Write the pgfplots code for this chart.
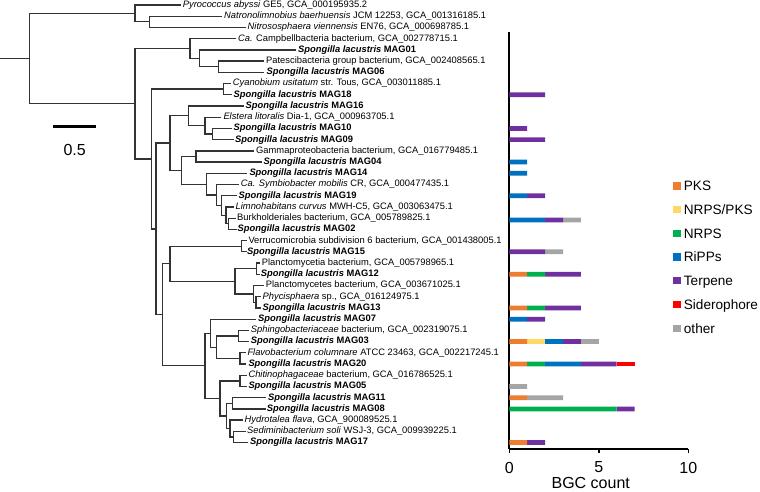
\documentclass[border=0pt]{standalone}
\usepackage{fontspec}
\setmainfont{Liberation Sans}
\usepackage{pgfplots}
\pgfplotsset{compat=1.18}
\usepackage{pgfplotstable}

\definecolor{cPKS}{HTML}{ED7D31}
\definecolor{cNP}{HTML}{FFD966}
\definecolor{cNRPS}{HTML}{00B050}
\definecolor{cRiPP}{HTML}{0070C0}
\definecolor{cTerp}{HTML}{7030A0}
\definecolor{cSid}{HTML}{FF0000}
\definecolor{cOth}{HTML}{A5A5A5}

\newcommand\mg[1]{\textbf{\textit{Spongilla lacustris} MAG#1}}
\tikzset{lbl/.style={font=\fontsize{9.35}{11}\selectfont, inner sep=0pt, text height=6.7pt, text depth=1.9pt, anchor=west}}
\pgfplotsset{tl/.style={black!80, line width=1.3pt, no markers, sharp plot, line join=miter, line cap=rect}}

% slot = 41 - tree row
\pgfplotstableread{
slot PKS NP NRPS RiPP Terp Sid Oth
32 0 0 0 0 2 0 0
29 0 0 0 0 1 0 0
28 0 0 0 0 2 0 0
26 0 0 0 1 0 0 0
25 0 0 0 1 0 0 0
23 0 0 0 1 1 0 0
20.84 0 0 0 2 1 0 1
18 0 0 0 0 2 0 1
16 1 0 1 0 2 0 0
13 1 0 1 0 2 0 0
12 0 0 0 1 1 0 0
10 1 1 0 1 1 0 1
8 1 0 1 2 2 1 0
6 0 0 0 0 0 0 1
5 1 0 0 0 0 0 2
4 0 0 6 0 1 0 0
1 1 0 0 0 1 0 0
}\bgc

\begin{document}
\begin{tikzpicture}
\useasboundingbox (0pt,0pt) rectangle (760pt,492pt);
\begin{axis}[name=tree, at={(0pt,0pt)}, anchor=south west, scale only axis,
  width=760pt, height=492pt, xmin=0, xmax=760, ymin=0.5544, ymax=44.405,
  y dir=reverse, hide axis, clip=false, enlargelimits=false]
% tree branches
\addplot[tl] coordinates {(221.7,2)(149.3,2)(149.3,3)(245,3)};
\addplot[tl] coordinates {(180,1)(135,1)(135,2.5)(149.3,2.5)};
\addplot[tl] coordinates {(263.3,6)(218.3,6)(218.3,7)(263.3,7)};
\addplot[tl] coordinates {(295,5)(199.3,5)(199.3,6.5)(218.3,6.5)};
\addplot[tl] coordinates {(235,4)(190,4)(190,5.75)(199.3,5.75)};
\addplot[tl] coordinates {(230,8)(223.3,8)(223.3,9)(231.7,9)};
\addplot[tl] coordinates {(231.7,12)(212.3,12)(212.3,13)(233.3,13)};
\addplot[tl] coordinates {(220.7,11)(205,11)(205,12.5)(212.3,12.5)};
\addplot[tl] coordinates {(243.3,10)(188.3,10)(188.3,11.75)(205,11.75)};
\addplot[tl] coordinates {(253.3,14)(196,14)(196,15)(261.7,15)};
\addplot[tl] coordinates {(235,20)(228.3,20)(228.3,21)(236.7,21)};
\addplot[tl] coordinates {(233.3,19)(226,19)(226,20.5)(228.3,20.5)};
\addplot[tl] coordinates {(236.7,18)(221.7,18)(221.7,19.75)(226,19.75)};
\addplot[tl] coordinates {(238.3,17)(216.7,17)(216.7,18.875)(221.7,18.875)};
\addplot[tl] coordinates {(246.7,16)(206.7,16)(206.7,17.9375)(216.7,17.9375)};
\addplot[tl] coordinates {(196,14.5)(181.7,14.5)(181.7,16.96875)(206.7,16.96875)};
\addplot[tl] coordinates {(188.3,10.875)(170,10.875)(170,15.734375)(181.7,15.734375)};
\addplot[tl] coordinates {(246,22)(241.7,22)(241.7,23)(246,23)};
\addplot[tl] coordinates {(259.3,24)(256.7,24)(256.7,25)(259.3,25)};
\addplot[tl] coordinates {(260,27)(256,27)(256,28)(260,28)};
\addplot[tl] coordinates {(263.3,26)(253.3,26)(253.3,27.5)(256,27.5)};
\addplot[tl] coordinates {(256.7,24.5)(235,24.5)(235,26.75)(253.3,26.75)};
\addplot[tl] coordinates {(241.7,22.5)(170,22.5)(170,25.625)(235,25.625)};
\addplot[tl] coordinates {(248.3,30)(238.3,30)(238.3,31)(248.3,31)};
\addplot[tl] coordinates {(245,32)(240,32)(240,33)(245,33)};
\addplot[tl] coordinates {(238.3,30.5)(216.7,30.5)(216.7,32.5)(240,32.5)};
\addplot[tl] coordinates {(255,29)(210.7,29)(210.7,31.5)(216.7,31.5)};
\addplot[tl] coordinates {(246,34)(240,34)(240,35)(246,35)};
\addplot[tl] coordinates {(265,36)(232.3,36)(232.3,37)(265,37)};
\addplot[tl] coordinates {(245,39)(233.3,39)(233.3,40)(247.3,40)};
\addplot[tl] coordinates {(242.7,38)(230,38)(230,39.5)(233.3,39.5)};
\addplot[tl] coordinates {(232.3,36.5)(226.7,36.5)(226.7,38.75)(230,38.75)};
\addplot[tl] coordinates {(240,34.5)(220,34.5)(220,37.625)(226.7,37.625)};
\addplot[tl] coordinates {(210.7,30.25)(205,30.25)(205,36.0625)(220,36.0625)};
\addplot[tl] coordinates {(170,24.0625)(162.3,24.0625)(162.3,33.15625)(205,33.15625)};
\addplot[tl] coordinates {(170,13.3046875)(156,13.3046875)(156,28.609375)(162.3,28.609375)};
\addplot[tl] coordinates {(223.3,8.5)(151.7,8.5)(151.7,20.95703125)(156,20.95703125)};
\addplot[tl] coordinates {(190,4.875)(135,4.875)(135,14.728515625)(151.7,14.728515625)};
\addplot[tl] coordinates {(135,1.75)(29.3,1.75)(29.3,9.8017578125)(135,9.8017578125)};
\addplot[tl] coordinates {(0,5.77587890625)(29.3,5.77587890625)};
% scale bar
\addplot[black, line width=3pt, no markers] coordinates {(53.3,11.847)(96,11.847)};
\node[font=\fontsize{16}{19}\selectfont, inner sep=0pt] at (axis cs:74.7,13.92) {0.5};
% leaf labels
\node[lbl] at (axis cs:182.7,1) {\textit{Pyrococcus abyssi} GE5, GCA\_000195935.2};
\node[lbl] at (axis cs:224,2) {\textit{Natronolimnobius baerhuensis} JCM 12253, GCA\_001316185.1};
\node[lbl] at (axis cs:247.5,3) {\textit{Nitrososphaera viennensis} EN76, GCA\_000698785.1};
\node[lbl] at (axis cs:238,4) {\textit{Ca.} Campbellbacteria bacterium, GCA\_002778715.1};
\node[lbl] at (axis cs:298,5) {\mg{01}};
\node[lbl] at (axis cs:266,6) {Patescibacteria group bacterium, GCA\_002408565.1};
\node[lbl] at (axis cs:266.5,7) {\mg{06}};
\node[lbl] at (axis cs:232.7,8) {\textit{Cyanobium usitatum} str. Tous, GCA\_003011885.1};
\node[lbl] at (axis cs:233.5,9) {\mg{18}};
\node[lbl] at (axis cs:245.5,10) {\mg{16}};
\node[lbl] at (axis cs:223.3,11) {\textit{Elstera litoralis} Dia-1, GCA\_000963705.1};
\node[lbl] at (axis cs:233.5,12) {\mg{10}};
\node[lbl] at (axis cs:235,13) {\mg{09}};
\node[lbl] at (axis cs:256,14) {Gammaproteobacteria bacterium, GCA\_016779485.1};
\node[lbl] at (axis cs:263.5,15) {\mg{04}};
\node[lbl] at (axis cs:249.3,16) {\mg{14}};
\node[lbl] at (axis cs:240.7,17) {\textit{Ca. Symbiobacter mobilis} CR, GCA\_000477435.1};
\node[lbl] at (axis cs:238.5,18) {\mg{19}};
\node[lbl] at (axis cs:235.5,19) {\textit{Limnohabitans curvus} MWH-C5, GCA\_003063475.1};
\node[lbl] at (axis cs:237,20) {Burkholderiales bacterium, GCA\_005789825.1};
\node[lbl] at (axis cs:237.5,21) {\mg{02}};
\node[lbl] at (axis cs:248.3,22) {Verrucomicrobia subdivision 6 bacterium, GCA\_001438005.1};
\node[lbl] at (axis cs:247,23) {\mg{15}};
\node[lbl] at (axis cs:261.7,24) {Planctomycetia bacterium, GCA\_005798965.1};
\node[lbl] at (axis cs:260.7,25) {\mg{12}};
\node[lbl] at (axis cs:265.7,26) {Planctomycetes bacterium, GCA\_003671025.1};
\node[lbl] at (axis cs:262.5,27) {\textit{Phycisphaera} sp., GCA\_016124975.1};
\node[lbl] at (axis cs:262.5,28) {\mg{13}};
\node[lbl] at (axis cs:258,29) {\mg{07}};
\node[lbl] at (axis cs:250.7,30) {\textit{Sphingobacteriaceae} bacterium, GCA\_002319075.1};
\node[lbl] at (axis cs:250.7,31) {\mg{03}};
\node[lbl] at (axis cs:247.3,32) {\textit{Flavobacterium columnare} ATCC 23463, GCA\_002217245.1};
\node[lbl] at (axis cs:248.3,33) {\mg{20}};
\node[lbl] at (axis cs:248.3,34) {\textit{Chitinophagaceae} bacterium, GCA\_016786525.1};
\node[lbl] at (axis cs:248.3,35) {\mg{05}};
\node[lbl] at (axis cs:268,36) {\mg{11}};
\node[lbl] at (axis cs:266.7,37) {\mg{08}};
\node[lbl] at (axis cs:244.5,38) {\textit{Hydrotalea flava}, GCA\_900089525.1};
\node[lbl] at (axis cs:247,39) {\textit{Sediminibacterium soli} WSJ-3, GCA\_009939225.1};
\node[lbl] at (axis cs:250,40) {\mg{17}};
\end{axis}

\begin{axis}[at={(509.3pt,43pt)}, anchor=south west, scale only axis,
  width=179pt, height=417.3pt, xmin=0, xmax=10, ymin=0.428, ymax=37.62,
  enlargelimits=false, xbar stacked, bar width=4.7pt,
  axis lines*=left, axis line style={line width=2pt, black},
  xtick={0,5,10}, ytick=\empty, tick align=outside, major tick length=4pt,
  xtick style={line width=1.6pt, black},
  /pgf/number format/assume math mode=true,
  xticklabel style={font=\fontsize{16}{19}\selectfont, inner sep=0pt, anchor=north},
  xticklabel shift=8.7pt,
  xlabel={BGC count},
  xlabel style={font=\fontsize{16}{19}\selectfont, inner sep=0pt, anchor=north,
    at={(axis description cs:0.455,0)}, yshift=-27.7pt},
  clip=false,
  legend cell align=left,
  legend image code/.code={\fill[#1] (0pt,-3.65pt) rectangle (7.3pt,3.65pt);},
  legend style={at={(axis description cs:0.9162,0.642)}, anchor=north west,
    draw=none, fill=none, inner sep=0pt, outer sep=0pt, row sep=13.9pt,
    font=\fontsize{13.6}{16}\selectfont,
    nodes={inner sep=0pt, text height=9.8pt, text depth=0pt},
    /tikz/every odd column/.append style={column sep=3.3pt}},
]
\addplot[fill=cPKS, draw=none] table[x=PKS, y=slot]{\bgc};
\addlegendentry{PKS}
\addplot[fill=cNP, draw=none] table[x=NP, y=slot]{\bgc};
\addlegendentry{NRPS/PKS}
\addplot[fill=cNRPS, draw=none] table[x=NRPS, y=slot]{\bgc};
\addlegendentry{NRPS}
\addplot[fill=cRiPP, draw=none] table[x=RiPP, y=slot]{\bgc};
\addlegendentry{RiPPs}
\addplot[fill=cTerp, draw=none] table[x=Terp, y=slot]{\bgc};
\addlegendentry{Terpene}
\addplot[fill=cSid, draw=none] table[x=Sid, y=slot]{\bgc};
\addlegendentry{Siderophore}
\addplot[fill=cOth, draw=none] table[x=Oth, y=slot]{\bgc};
\addlegendentry{other}
\end{axis}
\end{tikzpicture}
\end{document}
